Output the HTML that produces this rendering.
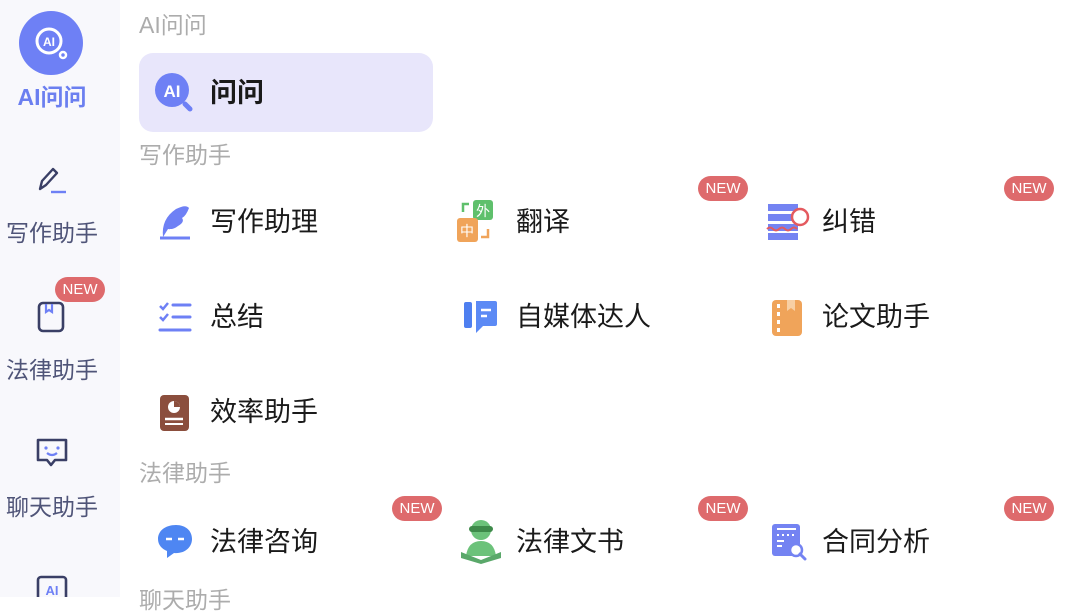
<!DOCTYPE html>
<html><head><meta charset="utf-8"><style>
*{margin:0;padding:0;box-sizing:border-box}
body{width:1080px;height:597px;overflow:hidden;background:#fff;position:relative;font-family:"Liberation Sans","Noto Sans CJK SC",sans-serif}
.a{position:absolute;white-space:nowrap}
.side{position:absolute;left:0;top:0;width:120px;height:597px;background:#f8f8fc}
.sl{position:absolute;width:104px;left:0;text-align:center;font-size:23px;color:#4f5478;line-height:26px;white-space:nowrap}
.h{position:absolute;left:139px;font-size:23px;color:#acacac;line-height:26px;white-space:nowrap}
.t{position:absolute;font-size:27px;color:#1a1a1a;line-height:30px;white-space:nowrap}
.new{position:absolute;width:50px;height:25px;border-radius:13px;background:#de6a6c;color:#fff;font-size:15px;line-height:25px;text-align:center}
svg{position:absolute}
</style></head><body>
<div class="side"></div>
<div class="a" style="left:19px;top:11px;width:64px;height:64px;border-radius:50%;background:#6e80f5"></div>
<svg style="left:19px;top:11px" width="64" height="64"><circle cx="30" cy="30" r="12" fill="none" stroke="#fff" stroke-width="3"/><text x="30" y="35" font-size="12" font-weight="bold" fill="#fff" text-anchor="middle" font-family="Liberation Sans">AI</text><circle cx="44" cy="44" r="3" fill="none" stroke="#fff" stroke-width="2.5"/></svg>
<div class="sl" style="top:84px;color:#6b7ff0;font-weight:bold">AI问问</div>
<svg style="left:36px;top:165px" width="32" height="30"><path d="M4 24 L6 16 L17 4 L21 8 L10 20 Z" fill="none" stroke="#3a3f66" stroke-width="2.4" stroke-linejoin="round"/><line x1="15" y1="27" x2="30" y2="27" stroke="#6e80f5" stroke-width="2.4"/></svg>
<div class="sl" style="top:220px">写作助手</div>
<div class="new" style="left:55px;top:277px">NEW</div>
<svg style="left:36px;top:300px" width="30" height="34"><rect x="3" y="3" width="24" height="28" rx="4" fill="none" stroke="#3a3f66" stroke-width="2.6"/><path d="M10 4 V12 L13 10 L16 12 V4" fill="none" stroke="#6e80f5" stroke-width="2.2"/></svg>
<div class="sl" style="top:357px">法律助手</div>
<svg style="left:35px;top:437px" width="34" height="34"><path d="M3 3 H31 V23 H20 L16 28 L12 23 H3 Z" fill="none" stroke="#3a3f66" stroke-width="2.6" stroke-linejoin="round"/><circle cx="11" cy="11" r="1.6" fill="#6e80f5"/><circle cx="23" cy="11" r="1.6" fill="#6e80f5"/><path d="M12 16 Q17 20 22 16" fill="none" stroke="#6e80f5" stroke-width="2.2"/></svg>
<div class="sl" style="top:494px">聊天助手</div>
<svg style="left:36px;top:575px" width="32" height="22"><rect x="2" y="2" width="28" height="30" rx="3" fill="none" stroke="#3a3f66" stroke-width="2.6"/><text x="16" y="20" font-size="13" font-weight="bold" fill="#6e80f5" text-anchor="middle" font-family="Liberation Sans">AI</text></svg>

<div class="h" style="top:12px">AI问问</div>
<div class="a" style="left:139px;top:53px;width:294px;height:79px;border-radius:14px;background:#e8e6fb"></div>
<svg style="left:153px;top:72px" width="44" height="44"><circle cx="19" cy="18" r="17" fill="#6e80f5"/><text x="19" y="25" font-size="17" font-weight="bold" fill="#fff" text-anchor="middle" font-family="Liberation Sans">AI</text><line x1="32" y1="32" x2="37" y2="37" stroke="#6e80f5" stroke-width="5" stroke-linecap="round"/></svg>
<div class="t" style="left:210px;top:78px;font-weight:bold">问问</div>

<div class="h" style="top:142px">写作助手</div>
<svg style="left:158px;top:204px" width="34" height="36"><path d="M5 33 Q3 15 18 5 Q28 0 31 4 Q28 12 24 14 Q27 18 20 22 Q15 26 10 25 Z" fill="#6e80f5"/><line x1="2" y1="34" x2="32" y2="34" stroke="#6e80f5" stroke-width="3"/><line x1="12" y1="26" x2="20" y2="26" stroke="#fff" stroke-width="2"/></svg>
<div class="t" style="left:210px;top:207px">写作助理</div>

<div class="new" style="left:698px;top:176px">NEW</div>
<svg style="left:455px;top:199px" width="48" height="48"><rect x="18" y="1" width="20" height="20" rx="3" fill="#5fc06c"/><text x="28" y="17" font-size="14" fill="#fff" text-anchor="middle">外</text><rect x="2" y="19" width="21" height="24" rx="3" fill="#f0a45a"/><text x="12" y="37" font-size="14" fill="#fff" text-anchor="middle">中</text><path d="M14 5 H8 V13" fill="none" stroke="#5fc06c" stroke-width="2.5"/><path d="M26 38 H33 V30" fill="none" stroke="#f0a45a" stroke-width="2.5"/></svg>
<div class="t" style="left:516px;top:207px">翻译</div>

<div class="new" style="left:1004px;top:176px">NEW</div>
<svg style="left:766px;top:202px" width="44" height="40"><rect x="2" y="2" width="30" height="7" fill="#7483f2"/><rect x="2" y="12" width="30" height="7" fill="#7483f2"/><rect x="2" y="22" width="30" height="7" fill="#7483f2"/><rect x="2" y="31" width="30" height="7" fill="#7483f2"/><circle cx="34" cy="15" r="8" fill="#fff" stroke="#e45a5f" stroke-width="2.5"/><path d="M1 27 q3 -3 6 0 t6 0 t6 0 t6 0 t6 0" fill="none" stroke="#e45a5f" stroke-width="2"/></svg>
<div class="t" style="left:822px;top:207px">纠错</div>

<svg style="left:157px;top:300px" width="36" height="36"><path d="M3 6 l3 3 l5 -6" fill="none" stroke="#6e80f5" stroke-width="2.5"/><path d="M3 17 l3 3 l5 -6" fill="none" stroke="#6e80f5" stroke-width="2.5"/><line x1="16" y1="5" x2="33" y2="5" stroke="#6e80f5" stroke-width="3" stroke-linecap="round"/><line x1="16" y1="17" x2="33" y2="17" stroke="#6e80f5" stroke-width="3" stroke-linecap="round"/><line x1="3" y1="30" x2="33" y2="30" stroke="#6e80f5" stroke-width="3" stroke-linecap="round"/></svg>
<div class="t" style="left:210px;top:302px">总结</div>

<svg style="left:461px;top:298px" width="40" height="40"><rect x="3" y="4" width="8" height="26" rx="2" fill="#4e7ff0"/><path d="M12 3 H34 Q36 3 36 5 V26 Q36 28 34 28 H22 L15 35 V3 Z" fill="#5c8af5"/><line x1="20" y1="12" x2="30" y2="12" stroke="#fff" stroke-width="2.5"/><line x1="20" y1="18" x2="26" y2="18" stroke="#fff" stroke-width="2.5"/></svg>
<div class="t" style="left:516px;top:302px">自媒体达人</div>

<svg style="left:770px;top:299px" width="34" height="38"><rect x="2" y="1" width="30" height="36" rx="4" fill="#f0a45a"/><rect x="7" y="5" width="3" height="4" fill="#fff"/><rect x="7" y="13" width="3" height="4" fill="#fff"/><rect x="7" y="21" width="3" height="4" fill="#fff"/><rect x="7" y="29" width="3" height="4" fill="#fff"/><path d="M17 1 V12 L21 9 L25 12 V1" fill="#f8cfa3"/></svg>
<div class="t" style="left:822px;top:302px">论文助手</div>

<svg style="left:158px;top:393px" width="32" height="40"><rect x="2" y="2" width="29" height="36" rx="4" fill="#8b4e3d"/><circle cx="16" cy="14" r="6" fill="#fff"/><path d="M16 14 V8 A6 6 0 0 1 22 14 Z" fill="#8b4e3d"/><line x1="7" y1="26" x2="25" y2="26" stroke="#fff" stroke-width="2.5"/><line x1="7" y1="31" x2="25" y2="31" stroke="#fff" stroke-width="2"/></svg>
<div class="t" style="left:210px;top:397px">效率助手</div>

<div class="h" style="top:460px">法律助手</div>
<div class="new" style="left:392px;top:496px">NEW</div>
<svg style="left:157px;top:522px" width="38" height="40"><path d="M19 3 C8 3 1 9 1 17 C1 23 5 27 10 29 L10 36 L17 31 C28 32 35 25 35 17 C35 9 29 3 19 3 Z" fill="#4e86f2"/><line x1="9" y1="17" x2="15" y2="17" stroke="#fff" stroke-width="2.5"/><line x1="21" y1="17" x2="27" y2="17" stroke="#fff" stroke-width="2.5"/></svg>
<div class="t" style="left:210px;top:527px">法律咨询</div>

<div class="new" style="left:698px;top:496px">NEW</div>
<svg style="left:458px;top:518px" width="46" height="46"><circle cx="23" cy="12" r="10" fill="#6cc27a"/><rect x="11" y="8" width="24" height="6" rx="3" fill="#3e8a4a"/><path d="M8 38 Q10 23 23 23 Q36 23 38 38 Z" fill="#6cc27a"/><path d="M3 34 L23 42 L43 34 L43 40 L23 46 L3 40 Z" fill="#5aa86a"/></svg>
<div class="t" style="left:516px;top:527px">法律文书</div>

<div class="new" style="left:1004px;top:496px">NEW</div>
<svg style="left:770px;top:521px" width="40" height="40"><rect x="2" y="3" width="28" height="32" rx="3" fill="#7483f2"/><line x1="7" y1="8" x2="26" y2="8" stroke="#fff" stroke-width="2"/><line x1="7" y1="14" x2="26" y2="14" stroke="#fff" stroke-width="2" stroke-dasharray="2 3"/><line x1="7" y1="20" x2="14" y2="20" stroke="#fff" stroke-width="2"/><line x1="7" y1="25" x2="12" y2="25" stroke="#fff" stroke-width="2"/><circle cx="26" cy="29" r="6" fill="#fff" stroke="#7483f2" stroke-width="2.5"/><line x1="30" y1="33" x2="35" y2="38" stroke="#7483f2" stroke-width="3" stroke-linecap="round"/></svg>
<div class="t" style="left:822px;top:527px">合同分析</div>

<div class="h" style="top:587px">聊天助手</div>
</body></html>
